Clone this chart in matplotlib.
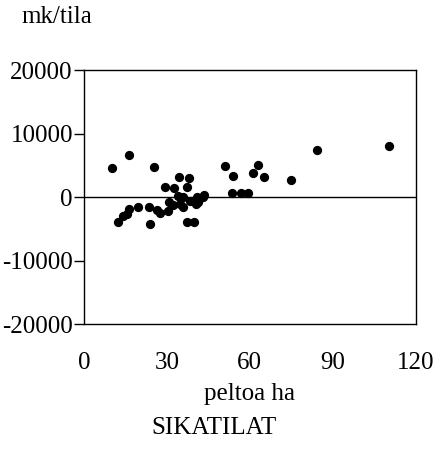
import matplotlib
matplotlib.use("Agg")
import matplotlib.pyplot as plt

# field area (ha) and result per farm (mk/tila)
peltoa_ha = [10.0, 16.2, 25.5, 34.5, 38.0, 29.3, 32.7, 37.4, 33.9, 35.9,
             41.0, 43.5, 30.9, 32.1, 34.8, 38.4, 41.4, 40.5, 35.7, 30.5,
             23.4, 19.7, 16.3, 26.5, 27.5, 14.0, 15.5, 12.2, 24.0, 37.2,
             39.9, 43.0, 51.0, 53.8, 63.1, 61.3, 65.3, 53.7, 56.7, 59.5,
             74.8, 84.3, 110.3]
mk_tila = [4570, 6600, 4830, 3260, 3050, 1575, 1420, 1575, 160, 0,
           0, 380, -790, -1150, -1040, -520, -790, -1040, -1575, -2090,
           -1465, -1575, -1830, -1985, -2460, -2880, -2620, -3930, -4190, -3930,
           -3830, 0, 4990, 3310, 5040, 3780, 3260, 690, 740, 740,
           2680, 7510, 8030]

x_ticks = [0, 30, 60, 90, 120]
y_ticks = [-20000, -10000, 0, 10000, 20000]

plt.rcParams['font.family'] = ['Liberation Serif', 'DejaVu Serif']
plt.rcParams['axes.unicode_minus'] = False

fig = plt.figure(figsize=(4.34, 4.57), dpi=100)
ax = fig.add_axes([0.1935, 0.29, 0.764, 0.556])

ax.scatter(peltoa_ha, mk_tila, s=32, color='black', zorder=3)
ax.axhline(0, color='black', linewidth=1.0)

ax.set_xlim(0, 120)
ax.set_ylim(-20000, 20000)
ax.set_xticks(x_ticks)
ax.set_yticks(y_ticks)
ax.tick_params(axis='y', direction='out', length=7, width=1, labelsize=18, pad=1)
ax.tick_params(axis='x', length=0, labelsize=18, pad=20)
for s in ax.spines.values():
    s.set_linewidth(1)

ax.set_xlabel('peltoa ha', fontsize=18, labelpad=6)
fig.text(0.05, 0.963, 'mk/tila', fontsize=18, ha='left', va='center')
fig.text(0.493, 0.063, 'SIKATILAT', fontsize=18, ha='center', va='center')

fig.savefig('out.png', dpi=100)
